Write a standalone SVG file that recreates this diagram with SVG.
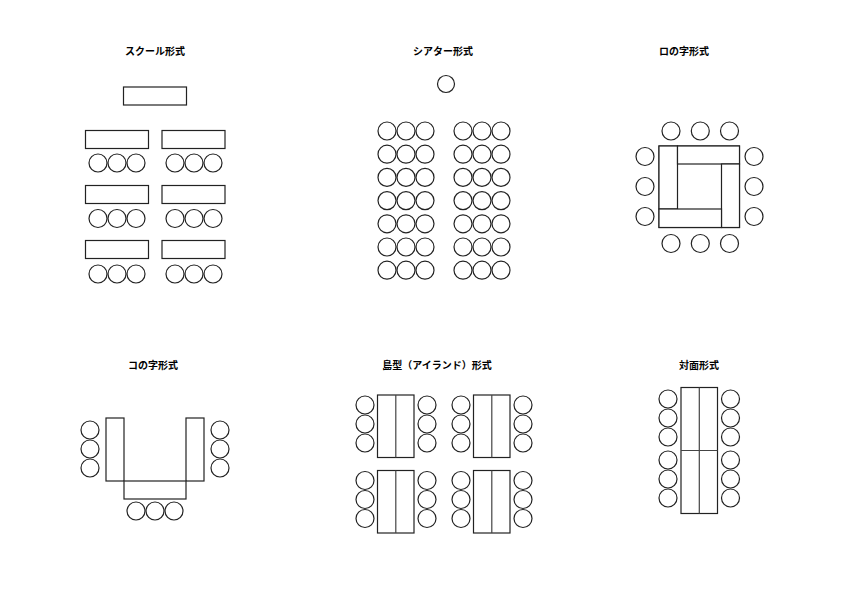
<svg xmlns="http://www.w3.org/2000/svg" width="842" height="595" viewBox="0 0 842 595">
<style>
rect,circle{fill:#fff;stroke:#222;stroke-width:1.2}
line{stroke:#444;stroke-width:1.2}
text{font-family:"Noto Sans CJK JP",sans-serif;font-size:10px;font-weight:bold;text-anchor:middle;fill:#000}
</style>
<defs>
<circle id="c" r="9"/>
<g id="row3"><use href="#c" x="0"/><use href="#c" x="19"/><use href="#c" x="38"/></g>
<g id="col3"><use href="#c" y="0"/><use href="#c" y="19"/><use href="#c" y="38"/></g>
<g id="trow"><use href="#c" x="0"/><use href="#c" x="19"/><use href="#c" x="38"/><use href="#c" x="76"/><use href="#c" x="95"/><use href="#c" x="114"/></g>
<g id="island">
<rect x="0" y="0" width="36.5" height="62.5"/><line x1="18.3" y1="0" x2="18.3" y2="62.5"/>
<use href="#col3" x="-12.5" y="10"/><use href="#col3" x="49.5" y="10"/>
</g>
</defs>
<g id="school">
<text x="155" y="55">スクール形式</text>
<rect x="123.5" y="87" width="63" height="18"/>
<rect x="85.5" y="130.5" width="63" height="18"/><rect x="162" y="130.5" width="63" height="18"/>
<rect x="85.5" y="185.5" width="63" height="18"/><rect x="162" y="185.5" width="63" height="18"/>
<rect x="85.5" y="240.5" width="63" height="18"/><rect x="162" y="240.5" width="63" height="18"/>
<use href="#row3" x="98" y="163"/><use href="#row3" x="175" y="163"/>
<use href="#row3" x="98" y="218.5"/><use href="#row3" x="175" y="218.5"/>
<use href="#row3" x="98" y="274"/><use href="#row3" x="175" y="274"/>
</g>
<g id="theater">
<text x="443" y="55">シアター形式</text>
<circle cx="446" cy="84" r="8.5"/>
<use href="#trow" x="387" y="131"/><use href="#trow" x="387" y="154.2"/><use href="#trow" x="387" y="177.4"/>
<use href="#trow" x="387" y="200.6"/><use href="#trow" x="387" y="223.8"/><use href="#trow" x="387" y="247"/><use href="#trow" x="387" y="270.2"/>
</g>
<g id="ro">
<text x="684" y="55">ロの字形式</text>
<rect x="659" y="146" width="80.5" height="81.5"/>
<rect x="659" y="146" width="18.5" height="63"/>
<rect x="677.5" y="146" width="62" height="18"/>
<rect x="721.5" y="164" width="18" height="63.5"/>
<rect x="659" y="209" width="62.5" height="18.5"/>
<use href="#c" x="671" y="131"/><use href="#c" x="700.3" y="131"/><use href="#c" x="729.5" y="131"/>
<use href="#c" x="671" y="243.5"/><use href="#c" x="700.3" y="243.5"/><use href="#c" x="729.5" y="243.5"/>
<use href="#c" x="645" y="156.5"/><use href="#c" x="645" y="186.5"/><use href="#c" x="645" y="216.5"/>
<use href="#c" x="754" y="156.5"/><use href="#c" x="754" y="186.5"/><use href="#c" x="754" y="216.5"/>
</g>
<g id="ko">
<text x="153" y="369">コの字形式</text>
<rect x="106" y="418" width="18" height="63"/>
<rect x="186" y="418" width="18" height="63"/>
<rect x="124" y="481" width="62" height="18"/>
<use href="#col3" x="90" y="430"/><use href="#col3" x="220" y="430"/>
<use href="#row3" x="136" y="511"/>
</g>
<g id="islandgroup">
<text x="437" y="369">島型（アイランド）形式</text>
<use href="#island" x="377.5" y="395"/><use href="#island" x="473.5" y="395"/>
<use href="#island" x="377.5" y="470.5"/><use href="#island" x="473.5" y="470.5"/>
</g>
<g id="taimen">
<text x="699" y="369">対面形式</text>
<rect x="681" y="387.5" width="36.5" height="126"/>
<line x1="699.3" y1="387.5" x2="699.3" y2="513.5"/>
<line x1="681" y1="450.5" x2="717.5" y2="450.5"/>
<use href="#col3" x="668" y="399"/><use href="#col3" x="668" y="460"/>
<use href="#col3" x="730.5" y="399"/><use href="#col3" x="730.5" y="460"/>
</g>
</svg>
